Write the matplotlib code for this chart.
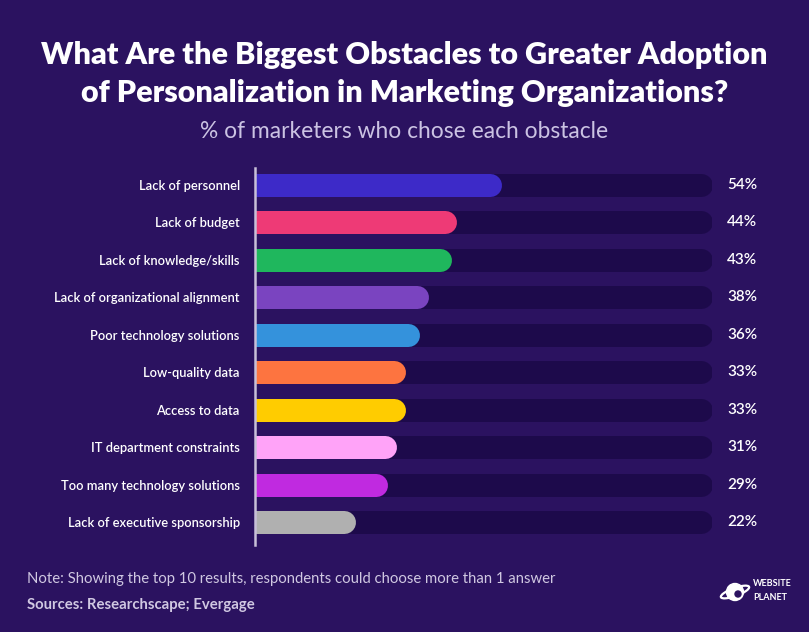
import matplotlib
matplotlib.use("Agg")
import matplotlib.pyplot as plt
from matplotlib.patches import Circle, Ellipse

categories = ["Lack of personnel", "Lack of budget", "Lack of knowledge/skills",
              "Lack of organizational alignment", "Poor technology solutions",
              "Low-quality data", "Access to data", "IT department constraints",
              "Too many technology solutions", "Lack of executive sponsorship"]
values = [54, 44, 43, 38, 36, 33, 33, 31, 29, 22]
colors = ["#3d2ac8", "#ee3a76", "#1fb75d", "#7a44c0", "#3492dc",
          "#fd7440", "#ffcc00", "#ffa3f8", "#c02ae0", "#b0b0b0"]
value_labels = [f"{v}%" for v in values]

BG = "#2b1260"
TRACK = "#1d0a4b"
W, H = 809, 632
fig = plt.figure(figsize=(W / 100, H / 100), dpi=100, facecolor=BG)
plt.rcParams['font.family'] = ['Lato', 'DejaVu Sans']

left_px, right_px, top_px, bot_px = 255, 712, 168, 545
ax = fig.add_axes([left_px / W, 1 - bot_px / H, (right_px - left_px) / W, (bot_px - top_px) / H])
ax.set_facecolor(BG)
ax.set_xlim(0, 100)
n = len(categories)
row_px = 37.44
ax.set_ylim(9 + (bot_px - 522) / row_px, -(185 - top_px) / row_px)

bar_px = 23
px_per_unit = (right_px - left_px) / 100
r = bar_px / 2 / px_per_unit
lw = bar_px * 72 / 100

for i, (v, c) in enumerate(zip(values, colors)):
    ax.plot([0, 100 - r], [i, i], color=TRACK, lw=lw, solid_capstyle='round', zorder=1)
    ax.plot([0, v - r], [i, i], color=c, lw=lw, solid_capstyle='round', zorder=2)
    ax.text(103.3, i, value_labels[i], color="white", fontsize=11, fontweight='semibold',
            va='center', ha='left', clip_on=False)

ax.set_yticks(range(n))
ax.set_yticklabels(categories, color="white", fontsize=9.3, fontweight='semibold')
ax.tick_params(axis='y', length=0, pad=11)
ax.set_xticks([])
for s in ['top', 'right', 'bottom']:
    ax.spines[s].set_visible(False)
ax.spines['left'].set_color("#c8c0d8")
ax.spines['left'].set_linewidth(1.8)
ax.spines['left'].set_zorder(5)

fig.text(0.5, 1 - 55 / H, "What Are the Biggest Obstacles to Greater Adoption",
         color="white", fontsize=22, fontweight='heavy', ha='center', va='center')
fig.text(0.5, 1 - 93 / H, "of Personalization in Marketing Organizations?",
         color="white", fontsize=22, fontweight='heavy', ha='center', va='center')
fig.text(0.5, 1 - 131 / H, "% of marketers who chose each obstacle",
         color="#cbc3e3", fontsize=16.4, ha='center', va='center')

fig.text(27 / W, 1 - 579 / H, "Note: Showing the top 10 results, respondents could choose more than 1 answer",
         color="#d0c8e2", fontsize=10.7, ha='left', va='center')
fig.text(27 / W, 1 - 605 / H, "Sources: Researchscape; Evergage",
         color="#d0c8e2", fontsize=10.7, fontweight='bold', ha='left', va='center')

# logo
lax = fig.add_axes([715 / W, 1 - 612 / H, 40 / W, 40 / H])
lax.set_xlim(0, 40); lax.set_ylim(0, 40); lax.axis('off')
lax.add_patch(Circle((20, 20), 8.5, color='white'))
lax.add_patch(Ellipse((20, 20), 30, 8, angle=20, fill=False, ec='white', lw=1.6))
lax.add_patch(Circle((23, 18), 3.0, color=BG))
fig.text(753 / W, 1 - 583 / H, "WEBSITE", color='white', fontsize=6.5, fontweight='bold', ha='left', va='center')
fig.text(753 / W, 1 - 597 / H, "PLANET", color='white', fontsize=6.5, fontweight='bold', ha='left', va='center')

fig.savefig("out.png", dpi=100, facecolor=BG)
